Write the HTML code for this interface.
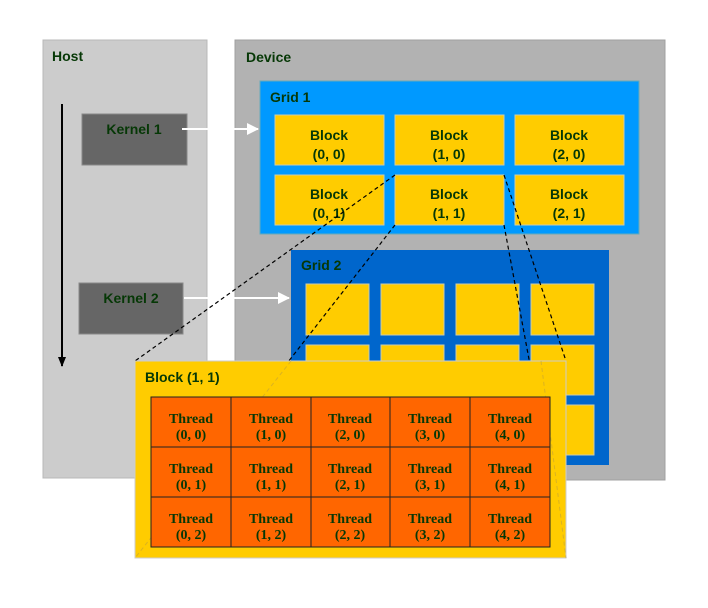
<!DOCTYPE html>
<html><head><meta charset="utf-8"><style>
body{margin:0;background:#fff}
svg text{font-family:"Liberation Sans",sans-serif;font-weight:bold;fill:#063806}
svg .s{font-family:"Liberation Serif",serif;font-size:14px}
</style></head><body>
<svg width="708" height="603" viewBox="0 0 708 603" xmlns="http://www.w3.org/2000/svg">
<defs><marker id="a" markerWidth="12" markerHeight="12" refX="11" refY="6" orient="auto" markerUnits="userSpaceOnUse"><path d="M0,0 L12,6 L0,12 z" fill="#fff"/></marker>
<marker id="b" markerWidth="10" markerHeight="8" refX="9" refY="4" orient="auto" markerUnits="userSpaceOnUse"><path d="M0,0 L10,4 L0,8 z" fill="#000"/></marker></defs>
<rect x="43" y="40" width="164" height="438" fill="#cccccc" stroke="#b8b8b8"/>
<text x="52" y="61" font-size="14">Host</text>
<rect x="235" y="40" width="430" height="440" fill="#b2b2b2" stroke="#a0a0a0"/>
<text x="246" y="62" font-size="14">Device</text>
<line x1="62" y1="104" x2="62" y2="366" stroke="#000" stroke-width="2" marker-end="url(#b)"/>
<rect x="82" y="114" width="105" height="51" fill="#666" stroke="#888"/>
<text x="134" y="134" font-size="14" text-anchor="middle">Kernel 1</text>
<rect x="79" y="283" width="104" height="51" fill="#666" stroke="#888"/>
<text x="131" y="303" font-size="14" text-anchor="middle">Kernel 2</text>
<line x1="182" y1="129" x2="258" y2="129" stroke="#fff" stroke-width="2" marker-end="url(#a)"/>
<line x1="184" y1="298" x2="289" y2="298" stroke="#fff" stroke-width="2" marker-end="url(#a)"/>
<rect x="260" y="81" width="379" height="153" fill="#0099ff" stroke="#6ab"/>
<text x="270" y="102" font-size="14">Grid 1</text>
<g font-size="14" text-anchor="middle">
<rect x="275" y="115" width="109" height="50" fill="#ffcc00" stroke="#cca"/><text x="329" y="140">Block</text><text x="329" y="159">(0, 0)</text>
<rect x="395" y="115" width="109" height="50" fill="#ffcc00" stroke="#cca"/><text x="449" y="140">Block</text><text x="449" y="159">(1, 0)</text>
<rect x="515" y="115" width="109" height="50" fill="#ffcc00" stroke="#cca"/><text x="569" y="140">Block</text><text x="569" y="159">(2, 0)</text>
<rect x="275" y="175" width="109" height="50" fill="#ffcc00" stroke="#cca"/><text x="329" y="199">Block</text><text x="329" y="218">(0, 1)</text>
<rect x="395" y="175" width="109" height="50" fill="#ffcc00" stroke="#cca"/><text x="449" y="199">Block</text><text x="449" y="218">(1, 1)</text>
<rect x="515" y="175" width="109" height="50" fill="#ffcc00" stroke="#cca"/><text x="569" y="199">Block</text><text x="569" y="218">(2, 1)</text>
</g>
<rect x="291" y="250" width="318" height="215" fill="#0066cc"/>
<text x="301" y="270" font-size="14">Grid 2</text>
<g fill="#ffcc00" stroke="#cca">
<rect x="306" y="284" width="63" height="51"/><rect x="381" y="284" width="63" height="51"/><rect x="456" y="284" width="63" height="51"/><rect x="531" y="284" width="63" height="51"/>
<rect x="306" y="345" width="63" height="50"/><rect x="381" y="345" width="63" height="50"/><rect x="456" y="345" width="63" height="50"/><rect x="531" y="345" width="63" height="50"/>
<rect x="306" y="405" width="63" height="50"/><rect x="381" y="405" width="63" height="50"/><rect x="456" y="405" width="63" height="50"/><rect x="531" y="405" width="63" height="50"/>
</g>
<g stroke="#000" stroke-width="1.2" stroke-dasharray="4,3">
<line x1="395" y1="175" x2="135" y2="361"/><line x1="504" y1="175" x2="566" y2="361"/>
<line x1="395" y1="225" x2="135" y2="558"/><line x1="504" y1="225" x2="566" y2="558"/>
</g>
<rect x="135" y="361" width="431" height="197" fill="#ffcc00" stroke="#ccc"/>
<g stroke="#b89a40" stroke-width="1" stroke-dasharray="4,3" opacity="0.5">
<line x1="291" y1="361" x2="135" y2="558"/><line x1="541" y1="361" x2="566" y2="558"/>
</g>
<text x="145" y="382" font-size="14">Block (1, 1)</text>
<rect x="151" y="397" width="399" height="150" fill="#ff6600" stroke="#222"/>
<g stroke="#222" stroke-width="1">
<line x1="231" y1="397" x2="231" y2="547"/><line x1="311" y1="397" x2="311" y2="547"/><line x1="390" y1="397" x2="390" y2="547"/><line x1="470" y1="397" x2="470" y2="547"/>
<line x1="151" y1="447" x2="550" y2="447"/><line x1="151" y1="497" x2="550" y2="497"/>
</g>
<g text-anchor="middle">
<text class="s" x="191" y="423">Thread</text><text class="s" x="191" y="439">(0, 0)</text>
<text class="s" x="271" y="423">Thread</text><text class="s" x="271" y="439">(1, 0)</text>
<text class="s" x="350" y="423">Thread</text><text class="s" x="350" y="439">(2, 0)</text>
<text class="s" x="430" y="423">Thread</text><text class="s" x="430" y="439">(3, 0)</text>
<text class="s" x="510" y="423">Thread</text><text class="s" x="510" y="439">(4, 0)</text>
<text class="s" x="191" y="473">Thread</text><text class="s" x="191" y="489">(0, 1)</text>
<text class="s" x="271" y="473">Thread</text><text class="s" x="271" y="489">(1, 1)</text>
<text class="s" x="350" y="473">Thread</text><text class="s" x="350" y="489">(2, 1)</text>
<text class="s" x="430" y="473">Thread</text><text class="s" x="430" y="489">(3, 1)</text>
<text class="s" x="510" y="473">Thread</text><text class="s" x="510" y="489">(4, 1)</text>
<text class="s" x="191" y="523">Thread</text><text class="s" x="191" y="539">(0, 2)</text>
<text class="s" x="271" y="523">Thread</text><text class="s" x="271" y="539">(1, 2)</text>
<text class="s" x="350" y="523">Thread</text><text class="s" x="350" y="539">(2, 2)</text>
<text class="s" x="430" y="523">Thread</text><text class="s" x="430" y="539">(3, 2)</text>
<text class="s" x="510" y="523">Thread</text><text class="s" x="510" y="539">(4, 2)</text>
</g>
</svg>
</body></html>
